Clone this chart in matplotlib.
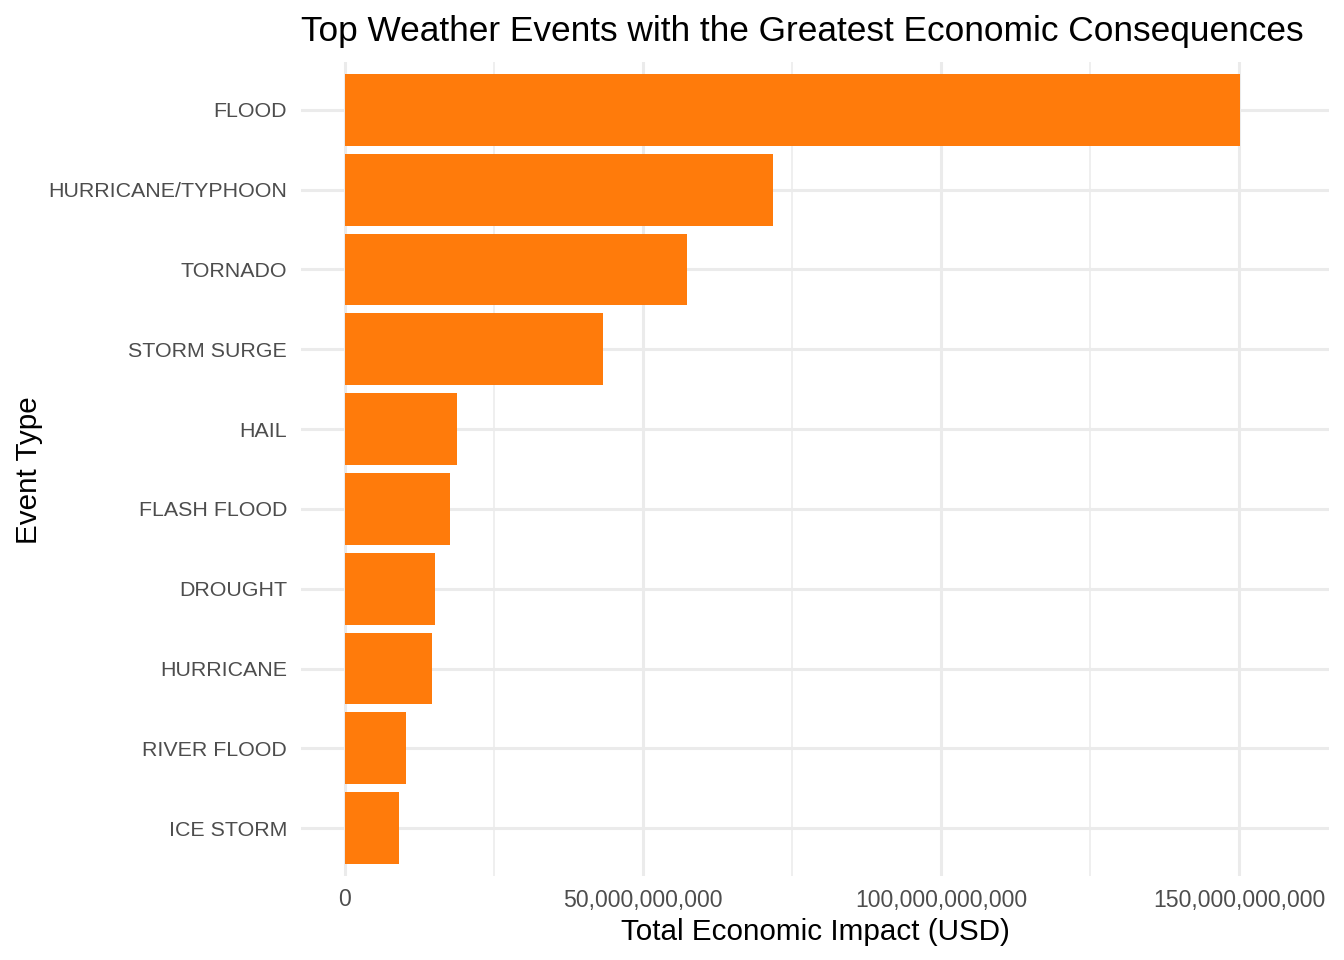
import matplotlib
matplotlib.use("Agg")
import matplotlib.pyplot as plt
from matplotlib.ticker import FuncFormatter, MultipleLocator

plt.rcParams['font.family'] = ['Liberation Sans', 'DejaVu Sans']

events = ["FLOOD", "HURRICANE/TYPHOON", "TORNADO", "STORM SURGE", "HAIL",
          "FLASH FLOOD", "DROUGHT", "HURRICANE", "RIVER FLOOD", "ICE STORM"]
impact = [150.2e9, 71.8e9, 57.4e9, 43.3e9, 18.8e9, 17.6e9, 15.1e9, 14.6e9, 10.2e9, 9.05e9]
major_ticks = [0, 50e9, 100e9, 150e9]

fig = plt.figure(figsize=(13.44, 9.6), dpi=100)
ax = fig.add_axes([301/1344, 1 - 876/960, (1329-301)/1344, (876-62)/960])

y = list(range(len(events)))
ax.barh(y, impact, height=0.9, color="#FF7B0B", zorder=3)
ax.set_yticks(y)
ax.set_yticklabels(events)
ax.set_ylim(9.6, -0.6)
ax.set_xlim(-7.38e9, 165.1e9)

ax.set_xticks(major_ticks)
ax.xaxis.set_minor_locator(MultipleLocator(25e9))
ax.xaxis.set_major_formatter(FuncFormatter(lambda v, _: f"{int(v):,}"))

ax.grid(True, which="major", color="#EBEBEB", linewidth=2.2, zorder=0)
ax.grid(True, which="minor", axis="x", color="#EBEBEB", linewidth=1.1, zorder=0)
for s in ax.spines.values():
    s.set_visible(False)
ax.tick_params(which="both", length=0)
ax.tick_params(axis="x", labelsize=16.6, labelcolor="#4D4D4D", pad=9)
ax.tick_params(axis="y", labelsize=15.4, labelcolor="#4D4D4D", pad=10)

ax.set_xlabel("Total Economic Impact (USD)", fontsize=21.3, color="black", labelpad=5)
ax.set_ylabel("Event Type", fontsize=21.3, color="black")
ax.yaxis.set_label_coords(43/1344, 1 - 470/960, transform=fig.transFigure)
fig.text(301/1344, 1 - 32/960, "Top Weather Events with the Greatest Economic Consequences",
         fontsize=25.4, color="black", va="center", ha="left")

fig.savefig("out.png", dpi=100)
